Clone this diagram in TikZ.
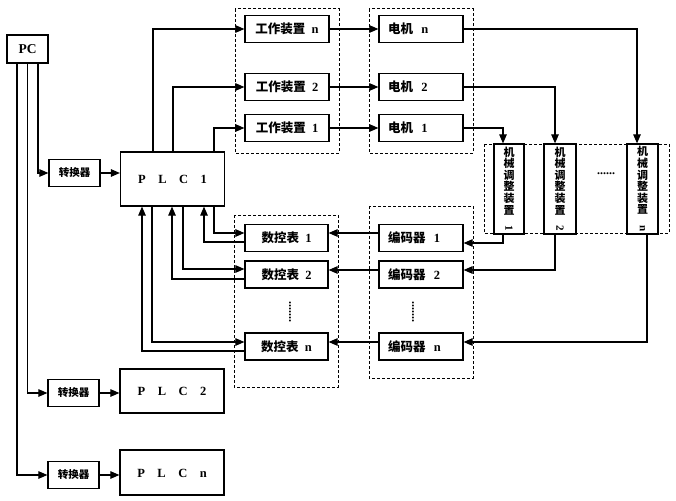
\documentclass[tikz,border=0pt]{standalone}
\usepackage{fontspec}
\usepackage{graphicx}
\setmainfont{Liberation Serif}
\newfontfamily\cjk{Noto Sans CJK SC}
\usetikzlibrary{arrows.meta}
\begin{document}
\begin{tikzpicture}[x=1pt,y=-1pt,
  box/.style={draw,line width=1.2pt,inner sep=0pt,font=\fontsize{12.5}{12}\selectfont\bfseries},
  lbox/.style={box,text width=66pt,align=left},
  cbox/.style={box,minimum width=51pt,minimum height=27pt,font=\fontsize{10.5}{12}\selectfont\bfseries\cjk},
  plcbox/.style={box,minimum width=104pt,font=\fontsize{12.5}{12}\selectfont\bfseries},
  mbox/.style={box,minimum width=31pt,minimum height=90pt,align=center,font=\fontsize{11}{11.6}\selectfont\bfseries\cjk},
  grp/.style={draw,line width=1pt,dash pattern=on 3pt off 2pt},
  arr/.style={line width=1.1pt,-{Triangle[length=9pt,width=7.5pt]}},
  dots/.style={font=\fontsize{12}{12}\selectfont\bfseries}]
\useasboundingbox (0,0) rectangle (676,500);
% groups
\draw[grp] (235,9) rectangle (339,153);
\draw[grp] (369,9) rectangle (473,153);
\draw[grp] (484,144) rectangle (669,233);
\draw[grp] (234,215) rectangle (338,387);
\draw[grp] (369,206) rectangle (473,378);
% PC and converters
\node[box,minimum width=41pt,minimum height=28pt,font=\fontsize{13.5}{13}\selectfont\bfseries] (pc) at (27.5,49) {PC};
\node[cbox] (c1) at (74.5,173) {转换器};
\node[cbox] (c2) at (73.5,393) {转换器};
\node[cbox] (cn) at (73.5,475) {转换器};
\node[plcbox,minimum height=54pt] (plc1) at (172.5,179) {\raisebox{-6pt}{P\quad L\quad C\quad 1}};
\node[plcbox,minimum height=44pt] (plc2) at (172,391) {\raisebox{-10pt}{P\quad L\quad C\quad 2}};
\node[plcbox,minimum height=45pt] (plcn) at (172,472.5) {\raisebox{-10pt}{P\quad L\quad C\quad n}};
% work devices & motors
\node[box,minimum width=84pt,minimum height=27pt] (wn) at (287,29) {{\cjk 工作装置}\ \ n};
\node[box,minimum width=84pt,minimum height=27pt] (w2) at (287,87) {{\cjk 工作装置}\ \ 2};
\node[box,minimum width=84pt,minimum height=27pt] (w1) at (287,128) {{\cjk 工作装置}\ \ 1};
\node[lbox,minimum width=84pt,minimum height=27pt] (mn) at (421,29) {{\cjk 电机}\ \ n};
\node[lbox,minimum width=84pt,minimum height=27pt] (m2) at (421,87) {{\cjk 电机}\ \ 2};
\node[lbox,minimum width=84pt,minimum height=27pt] (m1) at (421,128) {{\cjk 电机}\ \ 1};
% mechanical adjustment
\node[mbox,minimum width=30pt] (a1) at (509,189) {机\\械\\调\\整\\装\\置\\\rotatebox{-90}{\rmfamily 1}};
\node[mbox,minimum width=32pt] (a2) at (560,189) {机\\械\\调\\整\\装\\置\\\rotatebox{-90}{\rmfamily 2}};
\node[mbox] (an) at (642.5,189) {机\\械\\调\\整\\装\\置\\\rotatebox{-90}{\rmfamily n}};
\node[dots] (hd) at (606,174) {......};
% tables & encoders
\node[box,minimum width=83pt,minimum height=27pt] (t1) at (286.5,238) {{\cjk 数控表}\ \ 1};
\node[box,minimum width=83pt,minimum height=27pt] (t2) at (286.5,274.5) {{\cjk 数控表}\ \ 2};
\node[box,minimum width=83pt,minimum height=27pt] (tn) at (286.5,346.5) {{\cjk 数控表}\ \ n};
\node[lbox,minimum width=84pt,minimum height=27pt] (e1) at (421,238) {{\cjk 编码器}\ \ 1};
\node[lbox,minimum width=84pt,minimum height=27pt] (e2) at (421,274.5) {{\cjk 编码器}\ \ 2};
\node[lbox,minimum width=84pt,minimum height=27pt] (en) at (421,346.5) {{\cjk 编码器}\ \ n};
\node[dots,rotate=90] (vt) at (290,312) {.......};
\node[dots,rotate=90] (ve) at (413,312) {.......};
% PC connections
\draw[arr] ([xshift=10.5pt]pc.south) |- (c1.west);
\draw[arr] (pc.south) |- (c2.west);
\draw[arr] ([xshift=-10.5pt]pc.south) |- (cn.west);
\draw[arr] (c1.east) -- (plc1.west |- c1.east);
\draw[arr] (c2.east) -- (plc2.west |- c2.east);
\draw[arr] (cn.east) -- (plcn.west |- cn.east);
% PLC1 to work devices
\draw[arr] ([xshift=-19.5pt]plc1.north) |- (wn.west);
\draw[arr] ([xshift=0.5pt]plc1.north) |- (w2.west);
\draw[arr] ([xshift=41.5pt]plc1.north) |- (w1.west);
\draw[arr] (wn.east) -- (mn.west);
\draw[arr] (w2.east) -- (m2.west);
\draw[arr] (w1.east) -- (m1.west);
% motors to mechanical adjustment
\draw[arr] (mn.east) -| ([xshift=-5.5pt]an.north);
\draw[arr] (m2.east) -| ([xshift=-5pt]a2.north);
\draw[arr] (m1.east) -| ([xshift=-6pt]a1.north);
% mechanical adjustment to encoders
\draw[arr] ([xshift=-6pt]a1.south) |- ([yshift=-5pt]e1.east);
\draw[arr] ([xshift=-5pt]a2.south) |- ([yshift=4.5pt]e2.east);
\draw[arr] ([xshift=4.5pt]an.south) |- ([yshift=4.5pt]en.east);
% encoders to tables
\draw[arr] ([yshift=5pt]e1.west) -- ([yshift=5pt]t1.east);
\draw[arr] ([yshift=4.5pt]e2.west) -- ([yshift=4.5pt]t2.east);
\draw[arr] ([yshift=4.5pt]en.west) -- ([yshift=4.5pt]tn.east);
% PLC1 <-> tables
\draw[arr] ([xshift=41.5pt]plc1.south) |- ([yshift=5pt]t1.west);
\draw[arr] ([yshift=-4pt]t1.west) -| ([xshift=31.5pt]plc1.south);
\draw[arr] ([xshift=10.5pt]plc1.south) |- ([yshift=5.5pt]t2.west);
\draw[arr] ([yshift=-4.5pt]t2.west) -| ([xshift=-0.5pt]plc1.south);
\draw[arr] ([xshift=-20.5pt]plc1.south) |- ([yshift=4.5pt]tn.west);
\draw[arr] ([yshift=-4.5pt]tn.west) -| ([xshift=-30.5pt]plc1.south);
\end{tikzpicture}
\end{document}
